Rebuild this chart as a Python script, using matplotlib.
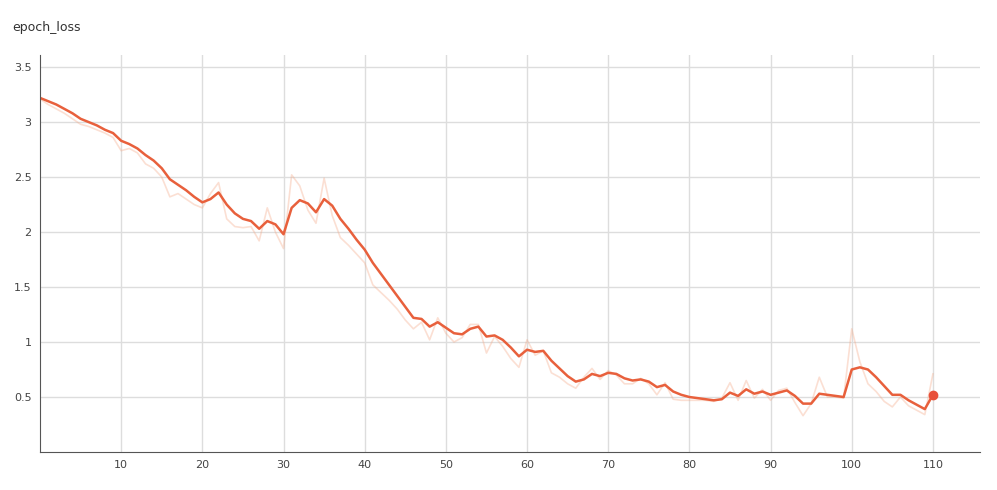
import matplotlib.pyplot as plt
import numpy as np

# Smoothed epoch loss, epochs 0..110
smoothed = [3.22, 3.19, 3.16, 3.12, 3.08, 3.03, 3.00, 2.97, 2.93, 2.90,
            2.83, 2.80, 2.76, 2.70, 2.65, 2.58, 2.48, 2.43, 2.38, 2.32,
            2.27, 2.30, 2.36, 2.25, 2.17, 2.12, 2.10, 2.03, 2.10, 2.07,
            1.98, 2.22, 2.29, 2.26, 2.18, 2.30, 2.24, 2.12, 2.03, 1.93,
            1.84, 1.72, 1.62, 1.52, 1.42, 1.32, 1.22, 1.21, 1.14, 1.18,
            1.13, 1.08, 1.07, 1.12, 1.14, 1.05, 1.06, 1.02, 0.95, 0.87,
            0.93, 0.91, 0.92, 0.83, 0.76, 0.69, 0.64, 0.66, 0.71, 0.69,
            0.72, 0.71, 0.67, 0.65, 0.66, 0.64, 0.59, 0.61, 0.55, 0.52,
            0.50, 0.49, 0.48, 0.47, 0.48, 0.54, 0.51, 0.57, 0.53, 0.55,
            0.52, 0.54, 0.56, 0.51, 0.44, 0.44, 0.53, 0.52, 0.51, 0.50,
            0.75, 0.77, 0.75, 0.68, 0.60, 0.52, 0.52, 0.47, 0.43, 0.39,
            0.52]

# Raw epoch loss (faint line)
raw = [3.21, 3.16, 3.12, 3.08, 3.03, 2.98, 2.96, 2.93, 2.90, 2.86,
       2.74, 2.76, 2.72, 2.62, 2.58, 2.50, 2.32, 2.35, 2.30, 2.25,
       2.22, 2.35, 2.45, 2.12, 2.05, 2.04, 2.05, 1.92, 2.22, 2.00,
       1.85, 2.52, 2.42, 2.20, 2.08, 2.49, 2.15, 1.95, 1.88, 1.80,
       1.72, 1.52, 1.45, 1.38, 1.30, 1.20, 1.12, 1.18, 1.02, 1.22,
       1.08, 1.00, 1.04, 1.16, 1.16, 0.90, 1.05, 0.96, 0.85, 0.77,
       1.02, 0.88, 0.92, 0.72, 0.68, 0.62, 0.58, 0.68, 0.76, 0.66,
       0.74, 0.70, 0.62, 0.62, 0.67, 0.62, 0.52, 0.63, 0.48, 0.47,
       0.47, 0.47, 0.47, 0.46, 0.49, 0.63, 0.47, 0.65, 0.49, 0.57,
       0.47, 0.56, 0.58, 0.45, 0.33, 0.44, 0.68, 0.50, 0.50, 0.49,
       1.12, 0.82, 0.62, 0.55, 0.46, 0.41, 0.50, 0.42, 0.38, 0.34,
       0.71]

epochs = np.arange(len(smoothed))

fig = plt.figure(figsize=(9.97, 4.9), dpi=100)
ax = fig.add_axes([40 / 997, 38 / 490, 940 / 997, 397 / 490])

ax.plot(epochs, raw, color="#f4a582", alpha=0.35, linewidth=1.2)
ax.plot(epochs, smoothed, color="#e8603c", linewidth=1.8)
ax.plot(epochs[-1], smoothed[-1], "o", color="#e8503a", markersize=6)

ax.set_xlim(0, 115.8)
ax.set_ylim(0, 3.61)
ax.set_xticks(range(10, 111, 10))
ax.set_yticks([0.5, 1, 1.5, 2, 2.5, 3, 3.5])
ax.set_yticklabels(["0.5", "1", "1.5", "2", "2.5", "3", "3.5"])
ax.grid(True, color="#dddddd", linewidth=1)
ax.set_axisbelow(True)
for s in ["top", "right"]:
    ax.spines[s].set_visible(False)
for s in ["left", "bottom"]:
    ax.spines[s].set_color("#555555")
ax.tick_params(labelsize=8, colors="#444444", length=0, pad=6)

fig.text(12 / 997, 1 - 28 / 490, "epoch_loss", fontsize=9, color="#333333", va="center")

fig.savefig("out.png", dpi=100)
